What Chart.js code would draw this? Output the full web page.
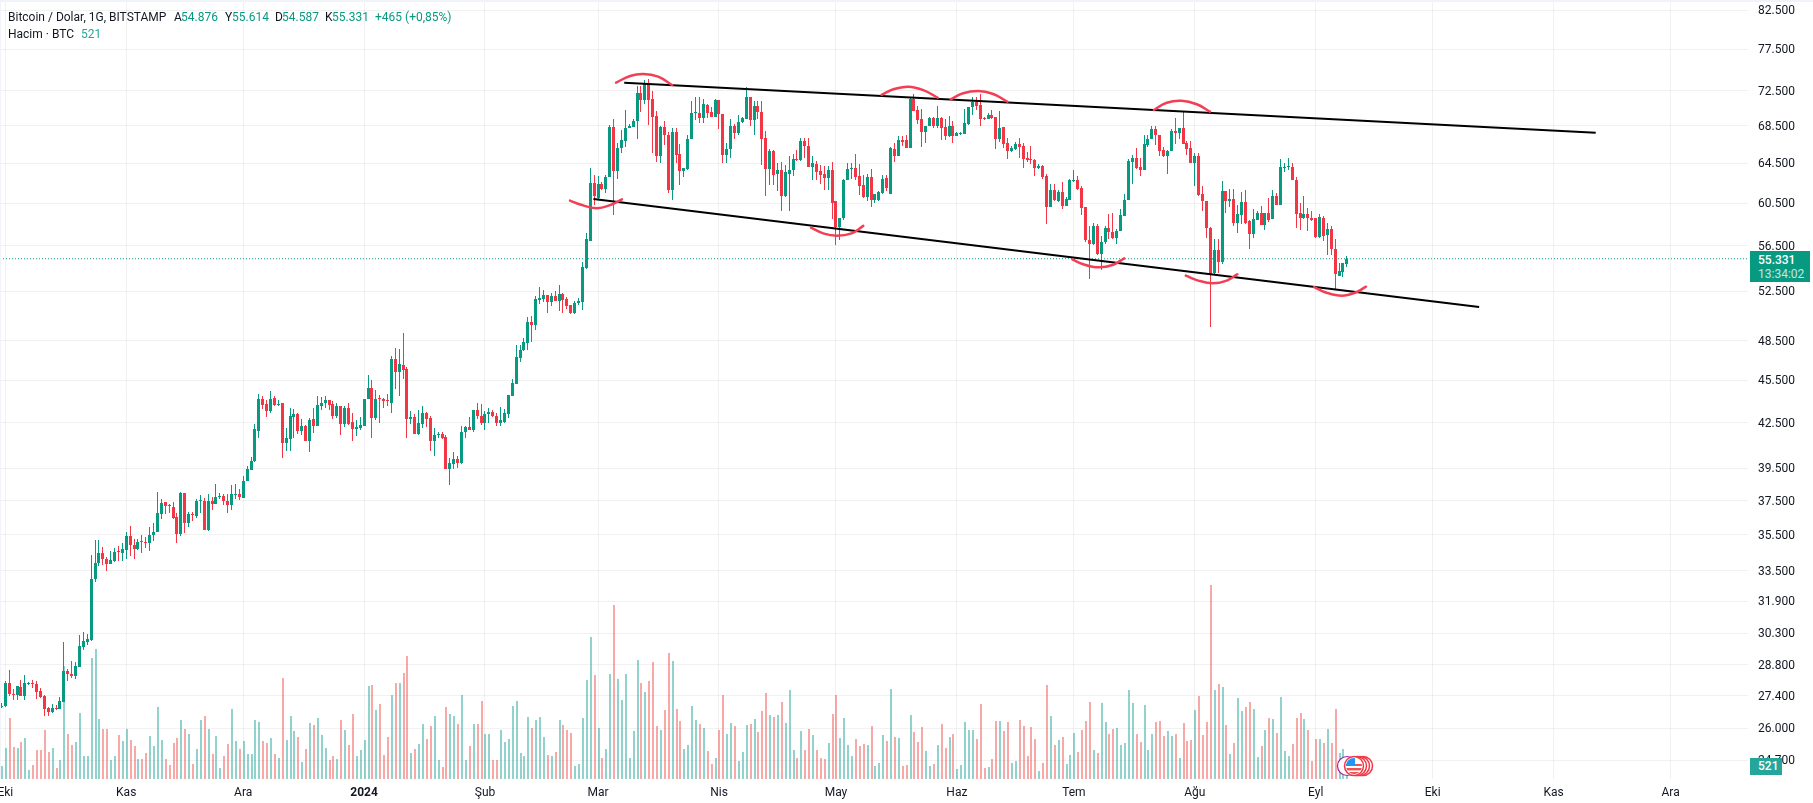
<!DOCTYPE html>
<html lang="tr">
<head>
<meta charset="utf-8">
<title>Bitcoin / Dolar</title>
<script src="https://cdn.jsdelivr.net/npm/chart.js@4"></script>
<style>
    html, body { margin: 0; padding: 0; background: #fff; overflow: hidden; }
    #wrap { position: relative; width: 1813px; height: 803px; font-family: Roboto, sans-serif; }
    #chart { position: absolute; left: 0; top: 0; }
    #wrap span, .tag { position: absolute; white-space: nowrap; }
    .bandTop { position: absolute; left: 0; top: 0; width: 1813px; height: 2px; background: #f0f3fa; }
    .bandLeft { position: absolute; left: 0; top: 0; width: 1px; height: 779px; background: #f0f3fa; }
    .hd { font-size: 12px; line-height: 14px; color: #131722; }
    .up { color: #089981; }
    .vol { color: #26a69a; }
    .tag { color: #fff; font-size: 12px; line-height: 14px; }
    #priceTag { left: 1750px; top: 251px; width: 60px; height: 31px; background: #089981; }
    #volTag { left: 1750px; top: 758px; width: 32px; height: 17px; background: #26a69a; font-weight: 500; }
    #flag { position: absolute; left: 1334px; top: 754px; }
</style>
</head>
<body>
<div id="wrap">
    <canvas id="chart" width="1813" height="803"></canvas>
    <div class="bandTop"></div>
    <div class="bandLeft"></div>

    <span class="hd" style="left:8px;top:10px">Bitcoin / Dolar, 1G, BITSTAMP</span>
    <span class="hd" style="left:174px;top:10px">A</span><span class="hd up" style="left:181px;top:10px">54.876</span>
    <span class="hd" style="left:225px;top:10px">Y</span><span class="hd up" style="left:232px;top:10px">55.614</span>
    <span class="hd" style="left:275px;top:10px">D</span><span class="hd up" style="left:282px;top:10px">54.587</span>
    <span class="hd" style="left:325px;top:10px">K</span><span class="hd up" style="left:332px;top:10px">55.331</span>
    <span class="hd up" style="left:375px;top:10px">+465 (+0,85%)</span>
    <span class="hd" style="left:8px;top:27px">Hacim · BTC</span>
    <span class="hd vol" style="left:81px;top:27px">521</span>

    <div class="tag" id="priceTag">
        <span style="left:8px;top:2px;font-weight:500">55.331</span>
        <span style="left:8px;top:16px;opacity:.75">13:34:02</span>
    </div>
    <div class="tag" id="volTag"><span style="left:8px;top:1px">521</span></div>

    <!-- economic event markers on the time axis -->
    <svg id="flag" width="42" height="24" viewBox="0 0 42 24">
        <circle cx="13" cy="12" r="9.5" fill="#fff" stroke="#9c27b0" stroke-width="1.2"/>
        <circle cx="29" cy="12" r="9.5" fill="#fff" stroke="#f23645" stroke-width="1.5"/>
        <circle cx="26" cy="12" r="9.5" fill="#fff" stroke="#f23645" stroke-width="1.5"/>
        <circle cx="23" cy="12" r="9.5" fill="#fff" stroke="#f23645" stroke-width="1.5"/>
        <circle cx="20" cy="12" r="9.5" fill="#fff" stroke="#f23645" stroke-width="1.5"/>
        <clipPath id="flagClip"><circle cx="20" cy="12" r="8"/></clipPath>
        <g clip-path="url(#flagClip)">
            <rect x="12" y="4" width="16" height="16" fill="#fff"/>
            <rect x="12" y="10" width="16" height="2" fill="#ef5350"/>
            <rect x="12" y="14" width="16" height="2.4" fill="#ef5350"/>
            <rect x="12" y="18" width="16" height="2" fill="#ef5350"/>
            <rect x="12" y="4" width="9" height="8" fill="#2196f3"/>
        </g>
    </svg>
</div>

<script>
// Daily candles, first entry is the last day of September 2023
const opens = [
    26910,
    26970,27985,27500,27420,27780,27410,27930,27950,27920,27600,
    27400,26860,26690,26870,26830,27150,28530,28400,28300,28700,
    29660,29900,29970,33060,33900,34500,34150,33890,34020,34570,
    34450,34630,35440,34900,34720,35110,35070,35040,35460,35660,
    36700,37400,37200,37100,36520,35520,37940,36170,36690,36600,
    37460,37480,35770,37460,37280,37720,37760,37500,37220,37850,
    37880,37680,38680,39400,39940,41930,44130,43780,43290,44260,
    43710,43850,41170,41440,42870,43130,41930,42250,41300,42730,
    42250,43640,43850,44060,43780,43000,43640,42450,43500,42590,
    42050,42120,42250,44130,44960,42800,44190,44190,44030,43880,
    47060,46090,46650,46370,42730,42870,41720,42450,43150,42800,
    41280,41700,41720,41570,39460,39790,40120,39860,41860,42190,
    41990,43360,43000,42520,43080,43220,43000,42520,42590,43080,
    44340,45220,47150,47750,48300,49970,49730,51820,51890,52180,
    51650,52130,51730,52290,51890,51330,50690,51490,51650,54540,
    56930,62530,61000,62430,61930,63070,68420,63710,66120,66880,
    68270,68420,69040,72230,71420,73420,71540,69580,65220,68420,
    67540,61830,67880,65500,63730,63900,67060,69900,69980,69350,
    70850,70040,69540,71420,69800,65400,66050,68540,67770,68960,
    69230,71810,69120,70770,70080,67170,63960,65830,63430,63830,
    61230,63430,63830,64970,64860,66880,66350,64160,64430,63730,
    63400,62990,63830,60670,58240,59040,62770,63900,64000,63200,
    62300,61070,63130,60770,60830,61500,63000,61400,66050,65220,
    67020,66990,66080,71540,70270,69230,67880,68460,69350,68460,
    69420,68420,67380,68460,67380,67600,67600,68770,70580,71160,
    70810,69310,69310,69700,69540,67130,68350,66660,65830,66010,
    66540,66350,65040,64930,64860,64070,64210,63160,60170,61830,
    60730,61630,60230,60830,62660,62760,62030,60130,57060,56620,
    58330,55790,56840,58110,57770,57240,57900,59290,60770,64680,
    65110,64100,63860,66460,67060,68190,67500,65940,65290,65760,
    67960,67770,68310,66700,66120,64570,65290,61430,60730,58170,
    54040,56070,55050,61740,60730,60900,58640,59380,60600,58800,
    57550,58890,59510,58390,59510,58950,61230,60350,64070,64140,
    64140,62830,59510,59040,59450,59100,59040,57300,59100,57490,
    58020,56250,53860,54160,54876
];
const highs = [
    27070,
    28060,28580,27700,27850,28100,28320,28010,28120,28060,27740,
    27450,26900,27060,27000,27330,29900,28620,28980,28940,30200,
    30350,30250,34340,35220,35220,34820,34260,34580,34760,34850,
    35040,35630,36000,35260,35280,35460,35370,35950,36200,38000,
    37580,37440,37280,37440,36790,38000,37990,36850,36850,37580,
    37820,37680,37880,37700,38490,37940,37880,37880,38430,38490,
    38190,39030,39650,40250,42450,44540,44340,44060,44750,44400,
    44060,43880,42120,43500,43430,43150,42730,42380,42800,43500,
    44340,44290,44400,44060,44000,43850,43640,43640,43850,43150,
    42660,42870,44190,45900,45530,44830,44470,44260,44540,47290,
    47900,47830,49090,46500,43290,43080,43360,43640,43250,42940,
    42120,41910,41910,41700,40180,40520,40320,42250,42250,42870,
    43360,43900,43780,43290,43500,43360,43150,43570,43430,44410,
    45600,48200,48200,48690,50370,50450,52130,52880,52620,52180,
    52370,52530,53060,52370,52050,51330,51730,51970,55000,57650,
    64000,63330,63230,62560,63330,68650,69230,66620,68080,70270,
    68770,69230,73080,73080,73780,73900,72500,70200,68540,69000,
    67880,68270,68270,66590,64000,67500,71350,71730,71810,71540,
    71000,70580,71540,71460,69800,66700,69300,68730,69730,69540,
    72900,71810,71350,71350,71350,68000,66000,65900,64570,64680,
    64320,65220,65500,65940,67170,67170,67170,65220,64750,64320,
    64250,64210,64680,60670,59100,62950,64500,64500,65500,64390,
    63330,63430,63900,61400,61670,63330,63330,66250,66620,67380,
    67380,67500,71620,72120,70770,70390,68540,69540,69540,70730,
    69540,69230,69610,69040,67880,67880,70390,70660,71810,71730,
    72120,69500,69890,70270,69540,70150,68350,67210,66380,66810,
    67210,66620,65650,66350,64930,64430,64320,63360,62430,62430,
    61770,62560,61100,62900,63830,63230,62230,60130,58330,58580,
    58480,57400,58330,59480,59580,58020,59950,61400,64930,65330,
    66120,65110,67500,67500,68460,68460,67500,66200,65940,68190,
    69420,68310,70190,66880,66880,65580,65580,62230,60730,58270,
    57090,57090,62700,61740,61900,61900,60330,61600,61830,58860,
    59950,59730,60270,59510,61000,61830,61500,64970,64570,65040,
    64500,63130,60500,61230,60070,59730,59040,59450,59260,58580,
    58330,57090,54930,54930,55614
];
const lows = [
    26880,
    26930,27380,27200,27230,27380,27200,27900,27750,27270,27310,
    26530,26530,26660,26790,26830,27150,28080,28200,28170,28680,
    29500,29710,29930,32880,33750,33800,33480,33890,33980,34050,
    34020,34150,34330,34170,34630,34500,34760,34590,35150,35650,
    36400,36700,36780,36400,35020,35450,35580,35960,36280,36460,
    36790,35770,35700,36930,37280,37620,37220,36750,36930,37580,
    37520,37640,38680,39400,39920,41480,43430,42870,43200,43640,
    43640,40170,40640,40640,41500,41730,41670,41300,40520,41830,
    42250,43360,43500,43360,42730,42800,41660,42190,42320,41300,
    41590,41990,42250,44130,41500,42660,42520,43500,43700,43200,
    44910,44340,45600,41500,42450,41720,41660,42120,42190,40650,
    40270,41500,41440,39460,38480,39460,39520,39790,41460,41990,
    41860,42730,42320,41990,42520,42870,42250,42270,42520,42800,
    44340,45220,46900,47670,47750,48370,49320,51480,51650,50690,
    51250,51730,50850,50690,51010,50610,50610,51330,50930,54400,
    56900,60330,60830,61830,61500,63070,59350,62900,65610,66200,
    68270,68420,67040,70000,71000,68650,65620,64680,64540,66460,
    61500,60770,64500,62330,63070,63830,67060,69200,68850,68850,
    69350,69540,69540,68150,64570,64570,65110,67130,67500,68850,
    69230,68460,67500,69230,64320,61200,62250,62330,61670,59730,
    61100,59730,63200,64790,64790,65110,64080,62770,62770,62400,
    61830,61830,58970,56560,57000,58900,62770,62900,62770,61330,
    61000,60670,60170,60500,60670,61430,61670,61400,64680,65220,
    66280,66080,66080,70190,68770,66230,66620,68460,68270,68270,
    66990,66990,67250,66620,67380,67500,67600,68650,69730,70270,
    68540,69200,69230,69310,66050,66770,66120,64970,65720,65900,
    65040,64030,64680,64390,63230,63930,62900,58470,60170,60670,
    60570,59900,60230,60830,62560,61830,59350,56840,53600,56590,
    55700,54300,56620,57090,57090,56620,57830,59290,60770,62430,
    63930,63160,63860,66230,67060,66460,65220,65150,63430,65760,
    66540,67060,66540,65370,64570,62200,61230,59730,57240,49600,
    53950,54100,54840,59530,60170,58330,57700,58480,58480,56160,
    57240,58890,58390,57930,58730,58950,60350,60350,63660,63830,
    62760,58170,57930,58950,57860,58800,57240,57180,56900,55630,
    55690,52620,53800,53710,54587
];
const closes = [
    26970,
    27985,27500,27420,27820,27410,27950,27970,27920,27580,27350,
    26830,26690,26870,26830,27180,28530,28400,28300,28750,29690,
    29910,30020,33060,33950,34480,34120,33890,34110,34540,34520,
    34670,35440,34900,34720,35090,35090,35050,35460,35680,36750,
    37340,37180,37150,36460,35520,37960,36170,36700,36660,37460,
    37480,35770,37460,37280,37740,37760,37460,37220,37880,37870,
    37700,38700,39460,39990,42050,44130,43710,43290,44190,43710,
    43830,41170,41500,42940,43080,41930,42250,41300,42660,42250,
    43710,43890,44060,43710,43000,43640,42450,43500,42450,42050,
    42190,42320,44190,44960,42800,44190,44150,43990,43990,47060,
    46090,46730,46290,42730,42870,41720,42520,43150,42730,41280,
    41660,41720,41500,39460,39860,40120,39860,41860,42190,41990,
    43360,42940,42520,43080,43220,42940,42520,42660,43150,44410,
    45300,47220,47800,48370,49970,49730,51890,51970,52180,51650,
    52130,51730,52290,51810,51250,50690,51570,51730,54560,57090,
    62530,61170,62430,61930,63130,68420,63710,66120,66990,68270,
    68530,69080,72230,71420,73420,71420,69500,65220,68420,67540,
    61830,67880,65400,63730,64000,67130,69900,69980,69350,70960,
    69930,69540,71420,69800,65400,66050,68540,67770,68960,69350,
    71810,69120,70770,70080,67060,63960,65830,63330,63830,61230,
    63570,63830,65000,64900,66880,66350,64160,64540,63600,63330,
    62990,63830,60500,58240,59100,62850,63900,64000,63130,62230,
    61100,63130,60770,61400,61570,62900,62000,66150,65220,67020,
    66770,66080,71540,70190,69120,67880,68540,69350,68460,69420,
    68270,67380,68460,67380,67690,67770,68850,70580,71160,70700,
    69230,69230,69700,69420,67130,68270,66540,65830,66120,66540,
    66240,64970,64860,64860,64070,64280,63130,60170,61830,60770,
    61630,60230,60900,62760,62760,61930,60070,57000,56620,58330,
    55790,56840,58110,57770,57240,57900,59350,60830,64750,65110,
    64030,63860,66540,67130,68190,67500,65830,65290,65830,67960,
    67770,68310,66540,66010,64570,65290,61330,60670,58110,53950,
    56070,55050,61740,60730,60900,58640,59450,60600,58640,57550,
    58950,59510,58390,59510,58890,61230,60350,64140,64140,64210,
    62760,59450,59040,59450,59040,58890,57300,59200,57390,58020,
    56250,53950,54250,54930,55331
];
const volumes = [
    570,
    1350,2650,1390,1350,1610,1780,390,610,1260,1260,
    2130,1170,1350,480,830,4920,1960,1480,1610,2870,
    1000,1000,5260,5660,2610,2180,2180,830,1000,1910,
    1650,2180,1700,1440,870,870,1130,1870,1440,3130,
    1700,870,610,1570,1780,2570,2180,1960,650,1310,
    2570,2740,2180,1090,1870,480,1000,1520,3050,1650,
    1310,1650,1090,1090,2570,2480,1650,1570,1780,1090,
    910,4390,1700,2740,2090,1830,740,1310,2440,2350,
    2650,1910,1350,830,1000,870,2570,2130,1480,2830,
    1000,1260,1700,4050,4090,3000,3260,1040,1830,3650,
    4180,4180,4610,5350,1130,1310,1520,2390,1740,2310,
    2740,830,520,3130,2830,2740,2390,3650,830,1440,
    2390,2390,3390,1960,1960,830,830,2130,1610,1740,
    3180,3390,1130,1000,2700,2220,2570,2700,1830,1040,
    1000,1170,2570,2350,2130,2000,570,650,2650,4310,
    6180,4520,2220,910,1310,4570,7570,4350,3440,4570,
    910,2090,5180,4180,3780,4260,5090,2310,2130,3000,
    5480,5130,3050,2520,1310,1480,3180,2570,2390,2220,
    1220,650,910,2130,3650,1960,2440,2310,780,1170,
    2350,2390,2610,2040,2960,3740,2780,2700,2780,3350,
    2440,3870,1260,910,2090,1260,2180,1910,1260,910,
    870,1570,2830,3650,1780,2650,1480,1000,1740,1440,
    1520,1480,2310,570,700,1910,1650,3920,1830,1780,
    570,610,2780,2040,1610,2260,1220,570,650,1480,
    2390,1350,1830,1960,440,610,2480,2130,2130,1740,
    3260,480,520,870,2520,2520,2090,2480,700,780,
    2570,2310,1000,2260,1740,350,700,4090,2740,1480,
    1700,1830,650,1040,2000,1170,2130,2520,3350,1260,
    1130,3310,2480,1960,2180,2220,1480,1570,3870,3310,
    1960,1610,3220,1260,1960,2480,2520,1870,2090,1870,
    1960,910,2440,1650,1700,3000,3610,1910,2480,8440,
    3870,4130,4000,2350,1090,1570,3520,2960,3130,3350,
    3050,960,1440,2130,2650,2610,2000,3570,1220,1000,
    1520,2650,2870,2610,2130,780,1740,1740,1570,2180,
    1570,3050,1130,1310,521
];

// Time axis: day number counted from 1 Eki 2023
const monthTicks = [0, 31, 61, 92, 123, 152, 183, 213, 244, 274, 305, 336, 366, 397, 427];
const monthLabels = ['Eki', 'Kas', 'Ara', '2024', 'Şub', 'Mar', 'Nis', 'May', 'Haz', 'Tem', 'Ağu', 'Eyl', 'Eki', 'Kas', 'Ara'];

const priceTicks = [82500, 77500, 72500, 68500, 64500, 60500, 56500, 52500, 48500, 45500, 42500,
    39500, 37500, 35500, 33500, 31900, 30300, 28800, 27400, 26000, 24700];

// Channel drawn on the chart: [day, price]
const upperLine = [[158.7, 73440], [407.8, 67770]];
const lowerLine = [[150.8, 60910], [377.9, 51200]];

// Hand drawn red arcs: [day, price]
const arcs = [
    [[156.6, 73440], [160.2, 74230], [163.6, 74470], [167.4, 74150], [171.0, 73160]],
    [[144.8, 60750], [147.4, 60370], [151.6, 60010], [155.1, 60320], [158.1, 60880]],
    [[206.6, 58160], [209.7, 57640], [213.2, 57420], [217.0, 57640], [220.0, 58330]],
    [[224.7, 72000], [227.7, 72660], [231.5, 72960], [235.4, 72570], [239.1, 71680]],
    [[242.4, 71500], [245.6, 72200], [249.5, 72460], [253.3, 72110], [257.0, 71220]],
    [[294.5, 70280], [297.8, 71110], [301.6, 71340], [305.5, 70930], [308.9, 70090]],
    [[273.6, 55280], [276.4, 54840], [280.3, 54570], [284.1, 54800], [286.9, 55370]],
    [[302.7, 53850], [305.9, 53420], [309.7, 53190], [313.2, 53420], [315.9, 53970]],
    [[335.6, 52870], [338.8, 52390], [342.7, 52140], [346.1, 52390], [348.9, 52900]]
];

const colors = {
    up: '#089981',
    down: '#f23645',
    volUp: 'rgba(38, 166, 154, 0.5)',
    volDown: 'rgba(239, 83, 80, 0.5)',
    arc: '#f23f55',
    grid: 'rgba(0, 0, 0, 0.055)',
    text: '#131722'
};

const firstDay = -1;
const xMin = -1.36;
const xMax = 446.85;
const lastClose = closes[closes.length - 1];

const isUp = closes.map((c, k) => c >= opens[k]);
const candleColors = isUp.map(up => up ? colors.up : colors.down);
const volumeColors = isUp.map(up => up ? colors.volUp : colors.volDown);

const toPoints = list => list.map(p => ({ x: p[0], y: p[1] }));

// Snap the bars to whole pixels so wicks stay crisp
const snapBars = {
    id: 'snapBars',
    afterDatasetsUpdate(chart) {
        chart.data.datasets.forEach((ds, idx) => {
            if (!ds.snap) return;
            chart.getDatasetMeta(idx).data.forEach(el => {
                const left = Math.floor(el.x);
                el.x = ds.snap === 'vol' ? left + 1 : left + 0.5;
                el.y = Math.round(el.y);
                el.base = Math.round(el.base);
                if (el.y === el.base) el.base = el.y + 1;
                el.height = Math.abs(el.base - el.y);
            });
        });
    }
};

const datasets = [
    {
        label: 'Hacim',
        snap: 'vol',
        yAxisID: 'yVol',
        order: 5,
        grouped: false,
        barThickness: 2,
        data: volumes.map((v, k) => ({ x: k + firstDay, y: v })),
        backgroundColor: volumeColors
    },
    {
        label: 'Fitil',
        snap: 'candle',
        yAxisID: 'y',
        order: 4,
        grouped: false,
        barThickness: 1,
        data: highs.map((h, k) => ({ x: k + firstDay, y: [lows[k], h] })),
        backgroundColor: candleColors
    },
    {
        label: 'Gövde',
        snap: 'candle',
        yAxisID: 'y',
        order: 3,
        grouped: false,
        barThickness: 3,
        minBarLength: 1,
        data: opens.map((o, k) => ({ x: k + firstDay, y: [o, closes[k]] })),
        backgroundColor: candleColors
    },
    {
        type: 'line',
        label: 'Son fiyat',
        yAxisID: 'y',
        order: 6,
        data: [{ x: xMin, y: lastClose }, { x: xMax, y: lastClose }],
        borderColor: colors.up,
        borderWidth: 1,
        borderDash: [1, 2],
        pointRadius: 0
    },
    {
        type: 'line',
        label: 'Üst kanal',
        yAxisID: 'y',
        order: 2,
        data: toPoints(upperLine),
        borderColor: '#000',
        borderWidth: 2,
        pointRadius: 0
    },
    {
        type: 'line',
        label: 'Alt kanal',
        yAxisID: 'y',
        order: 2,
        data: toPoints(lowerLine),
        borderColor: '#000',
        borderWidth: 2,
        pointRadius: 0
    }
];

arcs.forEach((arc, k) => {
    datasets.push({
        type: 'line',
        label: 'Yay ' + (k + 1),
        yAxisID: 'y',
        order: 1,
        data: toPoints(arc),
        borderColor: colors.arc,
        borderWidth: 2.5,
        borderCapStyle: 'round',
        tension: 0.4,
        pointRadius: 0
    });
});

new Chart(document.getElementById('chart'), {
    type: 'bar',
    data: { datasets },
    plugins: [snapBars],
    options: {
        responsive: false,
        animation: false,
        devicePixelRatio: 1,
        events: [],
        layout: { padding: { top: 2, left: 0, right: 0, bottom: 0 } },
        plugins: {
            legend: { display: false },
            title: { display: false },
            tooltip: { enabled: false }
        },
        elements: { bar: { inflateAmount: 0, borderWidth: 0 } },
        scales: {
            x: {
                type: 'linear',
                position: 'bottom',
                offset: false,
                min: xMin,
                max: xMax,
                afterBuildTicks: scale => {
                    scale.ticks = monthTicks.map(value => ({ value }));
                },
                afterFit: scale => {
                    scale.height = 24;
                    scale.paddingLeft = 0;
                    scale.paddingRight = 0;
                },
                grid: { color: colors.grid, drawTicks: false, offset: false },
                border: { display: false },
                ticks: {
                    autoSkip: false,
                    maxRotation: 0,
                    padding: 7,
                    color: colors.text,
                    font: ctx => ({
                        family: 'Roboto',
                        size: 12,
                        weight: ctx.tick && monthLabels[monthTicks.indexOf(ctx.tick.value)] === '2024' ? 'bold' : 'normal'
                    }),
                    callback: value => monthLabels[monthTicks.indexOf(value)]
                }
            },
            y: {
                type: 'logarithmic',
                position: 'right',
                min: 23970,
                max: 83610,
                afterBuildTicks: scale => {
                    scale.ticks = priceTicks.map(value => ({ value }));
                },
                afterFit: scale => {
                    scale.width = 65;
                    scale.paddingTop = 0;
                    scale.paddingBottom = 0;
                },
                grid: { color: colors.grid, drawTicks: false },
                border: { display: false },
                ticks: {
                    autoSkip: false,
                    padding: 10,
                    labelOffset: 1,
                    color: colors.text,
                    font: { family: 'Roboto', size: 12 },
                    callback: value => value.toLocaleString('tr-TR')
                }
            },
            yVol: {
                type: 'linear',
                display: false,
                min: 0,
                max: 33800
            }
        }
    }
});
</script>
</body>
</html>
